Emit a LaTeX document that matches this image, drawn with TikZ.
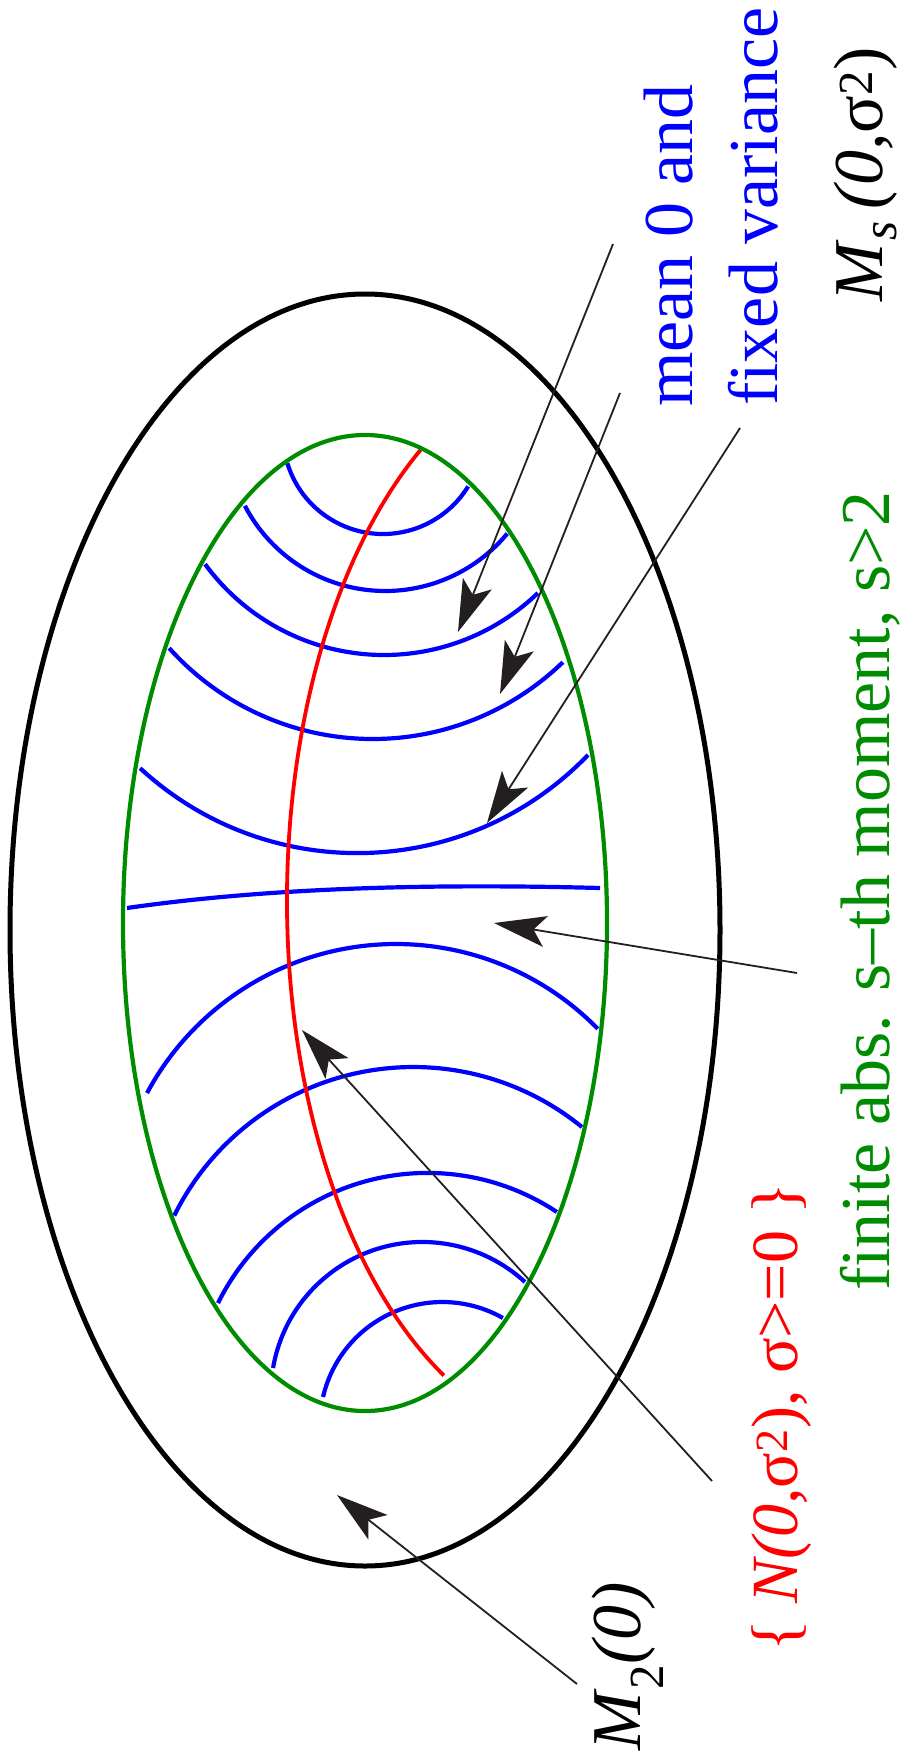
\documentclass[tikz,border=0pt]{standalone}
\usepackage{fontspec}
\setmainfont{Liberation Serif}
\usetikzlibrary{arrows.meta}
\definecolor{dg}{HTML}{008C00}
\definecolor{ak}{HTML}{231F20}
\begin{document}
\begin{tikzpicture}[x=1pt,y=1pt,
  lbl/.style={rotate=90, anchor=base west, inner sep=0pt, font=\fontsize{70}{84}\selectfont},
  pointer/.style={draw=ak, line width=1.8pt, -{Stealth[length=52pt,width=31pt,inset=12pt,fill=ak]}},
  arcb/.style={draw=blue, line width=4.2pt},
]
\useasboundingbox (0,0) rectangle (906,-1764);

% outer set
\draw[line width=5pt] (365,-930) ellipse[x radius=355, y radius=636];
% blue curves
\draw[arcb] (383,-434) ++(197:100) arc[start angle=197, end angle=328.4, radius=100];
\draw[arcb] (385.3,-432.7) ++(207.5:158.3) arc[start angle=207.5, end angle=320.4, radius=158.3];
\draw[arcb] (384.1,-433.2) ++(216.2:221.8) arc[start angle=216.2, end angle=313.9, radius=221.8];
\draw[arcb] (372.8,-465.4) ++(221.9:273.6) arc[start angle=221.9, end angle=314.0, radius=273.6];
\draw[arcb] (357.3,-532.8) ++(227.3:320.3) arc[start angle=227.3, end angle=316.1, radius=320.3];
\draw[arcb] (127,-908) .. controls (280,-886) and (450,-884) .. (600,-888);
\draw[arcb] (396,-1226.5) ++(151.8:282.5) arc[start angle=151.8, end angle=44.4, radius=282.5];
\draw[arcb] (413.4,-1333.8) ++(153.7:266.8) arc[start angle=153.7, end angle=50.8, radius=266.8];
\draw[arcb] (427.5,-1406.6) ++(153.7:233.7) arc[start angle=153.7, end angle=56.4, radius=233.7];
\draw[arcb] (422.4,-1393.5) ++(170.3:151.5) arc[start angle=170.3, end angle=47.4, radius=151.5];
\draw[arcb] (442.4,-1424.5) ++(167:122.5) arc[start angle=167, end angle=60.4, radius=122.5];
% red curve (normal family)
\draw[red, line width=3.8pt] (587,-900) ++(123.7:300 and 541) arc[start angle=123.7, end angle=241.5, x radius=300, y radius=541];
% inner set
\draw[dg, line width=4.2pt] (365,-923) ellipse[x radius=242, y radius=488];

% labels
\node[lbl, blue] (mean) at (692,-407) {mean 0 and};
\node[lbl, blue] (fixed) at (777,-406) {fixed variance};
\node[lbl] (ms) at (882,-302) {\textit{M}\textsubscript{\textit{s}}\,\textit{(0,}σ\textsuperscript{2})};
\node[lbl, dg] (fin) at (889,-1291) {finite abs. s–th moment, s>2};
\node[lbl, red, font=\fontsize{66}{80}\selectfont] (norm) at (797,-1652) {\{ \textit{N(0,}σ\textsuperscript{2}), σ>=0 \}};
\node[lbl] (m2) at (640,-1751) {\textit{M}\textsubscript{2}\textit{(0)}};

% arrow end points
\coordinate (t1) at (613,-244);  \coordinate (h1) at (458,-632);
\coordinate (t2) at (620,-393);  \coordinate (h2) at (500,-694);
\coordinate (t3) at (740,-428);  \coordinate (h3) at (487,-823);
\coordinate (t4) at (797,-973);  \coordinate (h4) at (494,-923);
\coordinate (t5) at (712,-1481); \coordinate (h5) at (302,-1030);
\coordinate (t6) at (577,-1684); \coordinate (h6) at (337,-1495);

\draw[pointer] (t1) -- (h1);
\draw[pointer] (t2) -- (h2);
\draw[pointer] (t3) -- (h3);
\draw[pointer] (t4) -- (h4);
\draw[pointer] (t5) -- (h5);
\draw[pointer] (t6) -- (h6);
\end{tikzpicture}
\end{document}
